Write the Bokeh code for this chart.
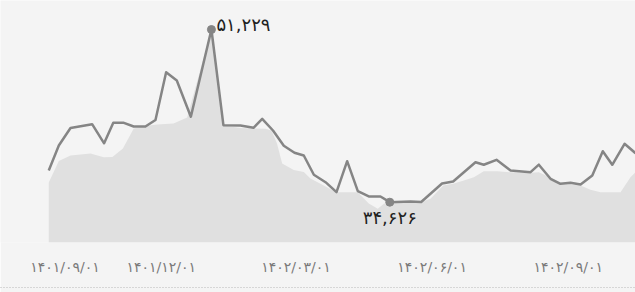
from bokeh.plotting import figure
from bokeh.models import Range1d, FixedTicker, LinearAxis
from bokeh.embed import file_html
from bokeh.resources import INLINE
from bokeh.core.properties import value

# ---- data (x in days from first observation) ----
LINE_X = [0, 6.8, 14.7, 29.3, 37.4, 43.6, 50.3, 57.4, 65.3, 72.1, 79.3, 86.5, 96.0,
          109.9, 118.0, 129.5, 138.3, 144.2, 151.5, 158.8, 166.0, 172.3, 179.1, 187.0,
          194.4, 201.6, 208.8, 216.2, 224.1, 230.4, 244.4, 251.6, 265.7, 273.2, 288.3,
          293.9, 302.5, 312.0, 325.5, 331.1, 339.0, 345.7, 352.5, 359.3, 367.2, 374.3,
          380.7, 389.0, 396.4]
LINE_Y = [37675, 40078, 41760, 42125, 40289, 42270, 42270, 41904, 41904, 42529, 47124,
          46326, 42846, 51229, 42029, 42001, 41779, 42645, 41520, 40049, 39376, 39117,
          37261, 36550, 35589, 38569, 35685, 35175, 35175, 34626, 34695, 34650, 36425,
          36617, 38472, 38223, 38703, 37675, 37511, 38232, 36877, 36396, 36492, 36329,
          37194, 39530, 38223, 40241, 39338]

AREA_X = [0, 6.8, 14.7, 28.2, 37.2, 43.0, 50.1, 57.4, 65.3, 73.2, 84.3, 93.5, 109.9,
          118.0, 129.5, 138.3, 146.4, 150.5, 154.2, 157.7, 165.5, 172.3, 176.8, 194.4,
          201.6, 208.8, 216.2, 222.3, 226.4, 230.4, 244.4, 251.6, 257.9, 266.5, 273.2,
          280.4, 287.2, 293.9, 303.0, 312.0, 325.5, 331.1, 339.0, 345.7, 352.5, 359.3,
          366.0, 372.8, 386.3, 393.0, 396.4]
AREA_Y = [36521, 38588, 39117, 39309, 38953, 38972, 39790, 41712, 41952, 42097, 42193,
          42770, 51229, 42001, 41760, 41712, 41683, 41520, 40270, 38348, 37723, 37530,
          36906, 35589, 35589, 35589, 34502, 33993, 34474, 34626, 34645, 34645, 34954,
          36233, 36396, 36713, 37031, 37607, 37607, 37511, 37454, 37511, 37002, 36521,
          36329, 36233, 35819, 35589, 35589, 37031, 37511]

TICK_POS = [11, 76, 167, 259, 351]
TICK_LABELS = ["۱۴۰۱/۰۹/۰۱", "۱۴۰۱/۱۲/۰۱", "۱۴۰۲/۰۳/۰۱", "۱۴۰۲/۰۶/۰۱", "۱۴۰۲/۰۹/۰۱"]

Y_START, Y_END = 30750, 54020
X_START, X_END = -32.6, 396.4

BG = "#f4f4f4"
LINE_COLOR = "#858585"
AREA_COLOR = "#e0e0e0"

PERSIAN = str.maketrans("0123456789", "۰۱۲۳۴۵۶۷۸۹")


def fa(v):
    return f"{v:,}".translate(PERSIAN)


p = figure(width=635, height=292, output_backend="svg", toolbar_location=None,
           x_range=Range1d(X_START, X_END), y_range=Range1d(Y_START, Y_END),
           y_axis_location=None, min_border_left=0, min_border_right=0,
           min_border_top=0, min_border_bottom=50)
p.background_fill_color = BG
p.border_fill_color = BG
p.outline_line_color = None
p.grid.visible = False

p.varea(x=AREA_X, y1=Y_START, y2=AREA_Y, fill_color=AREA_COLOR)
p.line(LINE_X, LINE_Y, line_width=2.5, line_color=LINE_COLOR, line_join="round")

imax = LINE_Y.index(max(LINE_Y))
imin = LINE_Y.index(min(LINE_Y))
p.scatter([LINE_X[imax], LINE_X[imin]], [LINE_Y[imax], LINE_Y[imin]], size=8,
          fill_color=LINE_COLOR, line_color=LINE_COLOR)
p.text([LINE_X[imax]], [LINE_Y[imax]], text=[fa(LINE_Y[imax])], x_offset=5, y_offset=-5,
       text_align="left", text_baseline="middle", text_font=value("DejaVu Sans"),
       text_font_size="18px", text_color="#222222")
p.text([LINE_X[imin]], [LINE_Y[imin]], text=[fa(LINE_Y[imin])], x_offset=0, y_offset=5,
       text_align="center", text_baseline="top", text_font=value("DejaVu Sans"),
       text_font_size="18px", text_color="#222222")

ax = p.xaxis[0]
ax.ticker = FixedTicker(ticks=TICK_POS)
ax.major_label_overrides = {t: l for t, l in zip(TICK_POS, TICK_LABELS)}
ax.axis_line_color = None
ax.major_tick_line_color = None
ax.minor_tick_line_color = None
ax.major_tick_out = 0
ax.minor_tick_out = 0
ax.major_label_standoff = 16
ax.major_label_text_font = "DejaVu Sans"
ax.major_label_text_font_size = "14px"
ax.major_label_text_color = "#7a7a7a"
# blank axis label only reserves room between the dates and the dotted rule
ax.axis_label = " "
ax.axis_label_standoff = 0
ax.axis_label_text_font_size = "7px"

rule = LinearAxis(ticker=FixedTicker(ticks=[]), major_tick_out=0, minor_tick_out=0,
                  major_tick_in=0, minor_tick_in=0,
                  axis_line_color="#b8b8b8", axis_line_dash="1 2", axis_line_width=1)
p.add_layout(rule, "below")

open("out.html", "w").write(file_html(p, INLINE))
